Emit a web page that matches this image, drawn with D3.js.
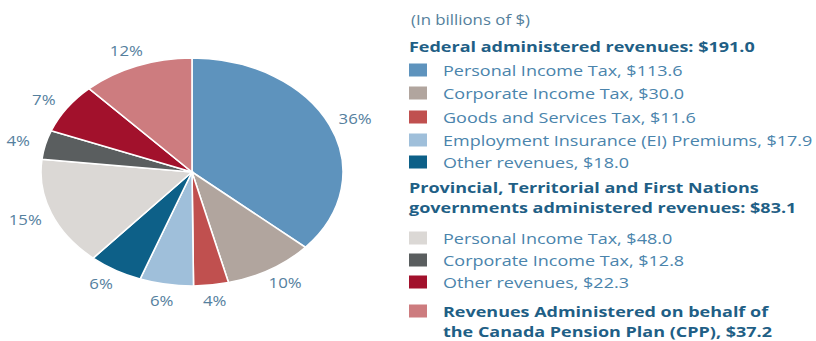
<!DOCTYPE html>
<html>
<head>
<meta charset="utf-8">
<script src="https://cdn.jsdelivr.net/npm/d3@7"></script>
<style>
  html, body { margin: 0; padding: 0; background: #fff; }
  svg { display: block; font-family: "Open Sans", "Noto Sans", sans-serif; }
</style>
</head>
<body>
<svg id="chart" width="816" height="341"></svg>
<script>
// Revenue categories (billions of $), clockwise from 12 o'clock
const categories = [
  "Personal Income Tax",
  "Corporate Income Tax",
  "Goods and Services Tax",
  "Employment Insurance (EI) Premiums",
  "Other revenues",
  "Personal Income Tax",
  "Corporate Income Tax",
  "Other revenues",
  "Revenues Administered on behalf of the Canada Pension Plan (CPP)"
];
const values = [113.6, 30.0, 11.6, 17.9, 18.0, 48.0, 12.8, 22.3, 37.2];
const percentLabels = ["36%", "10%", "4%", "6%", "6%", "15%", "4%", "7%", "12%"];
const colors = ["#5e93bd", "#b1a59e", "#c0504f", "#9fbfda", "#0d6088",
                "#dbd8d5", "#5a5e5f", "#a2112c", "#cd7c7f"];

const groupTitles = [
  ["Federal administered revenues: $191.0"],
  ["Provincial, Territorial and First Nations", "governments administered revenues: $83.1"]
];
const legendLines = [
  ["Personal Income Tax, $113.6"],
  ["Corporate Income Tax, $30.0"],
  ["Goods and Services Tax, $11.6"],
  ["Employment Insurance (EI) Premiums, $17.9"],
  ["Other revenues, $18.0"],
  ["Personal Income Tax, $48.0"],
  ["Corporate Income Tax, $12.8"],
  ["Other revenues, $22.3"],
  ["Revenues Administered on behalf of", "the Canada Pension Plan (CPP),  $37.2"]
];
const unitNote = "(In billions of $)";

const svg = d3.select("#chart");
const stretch = 1.2;   // the whole graphic is set slightly wide

// Text helper: horizontally widened text anchored at (x, y)
function wideText(parent, x, y, str, opts) {
  return parent.append("text")
    .attr("transform", `translate(${x},${y}) scale(${stretch},1)`)
    .attr("dominant-baseline", "central")
    .attr("text-anchor", opts.anchor || "start")
    .attr("font-size", opts.size)
    .attr("font-weight", opts.weight || "normal")
    .attr("fill", opts.fill)
    .text(str);
}

// ---- Elliptical pie ----
const cx = 192, cy = 172, rx = 151, ry = 114;
const pie = d3.pie().sort(null).value(d => d)(values);
const arc = d3.arc().innerRadius(0).outerRadius(ry);

const pieG = svg.append("g")
  .attr("transform", `translate(${cx},${cy}) scale(${rx / ry},1)`);

pieG.selectAll("path")
  .data(pie)
  .join("path")
  .attr("d", arc)
  .attr("fill", (d, i) => colors[i])
  .attr("stroke", "#fff")
  .attr("stroke-width", 1.6)
  .attr("vector-effect", "non-scaling-stroke");

// Percentage labels outside the ellipse
const lrx = 179, lry = 130;
const labelG = svg.append("g");
pie.forEach((d, i) => {
  const a = (d.startAngle + d.endAngle) / 2;
  wideText(labelG, cx + Math.sin(a) * lrx, cy - Math.cos(a) * lry, percentLabels[i],
    { size: 14, fill: "#55809e", anchor: "middle" });
});

// ---- Legend ----
const lg = svg.append("g");
const swX = 409, swW = 18, swH = 13, txX = 443;
const textColor = "#4a84ac";
const titleColor = "#1f5f86";

wideText(lg, swX + 2, 20, unitNote, { size: 14, fill: "#557f9c" });

function title(lines, y0, lineH) {
  lines.forEach((t, k) => {
    wideText(lg, swX, y0 + k * lineH, t, { size: 15, weight: "bold", fill: titleColor });
  });
}
title(groupTitles[0], 46, 20.5);
title(groupTitles[1], 187, 20.5);

const rowY = [70, 93, 117, 140, 162, 238, 260, 282, 311];

categories.forEach((c, i) => {
  lg.append("rect")
    .attr("x", swX).attr("y", rowY[i] - swH / 2)
    .attr("width", swW).attr("height", swH)
    .attr("fill", colors[i]);
  const bold = i === 8;
  legendLines[i].forEach((t, k) => {
    wideText(lg, txX, rowY[i] + k * 20.5, t,
      { size: 15, weight: bold ? "bold" : "normal", fill: bold ? titleColor : textColor });
  });
});
</script>
</body>
</html>
